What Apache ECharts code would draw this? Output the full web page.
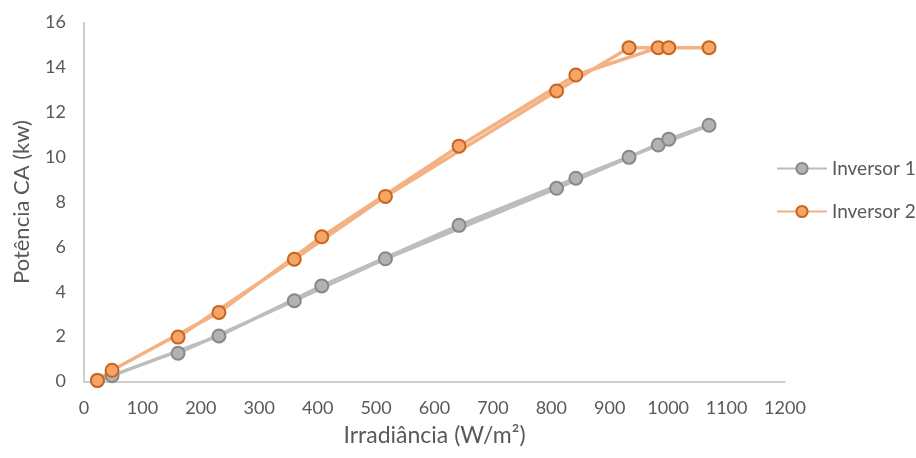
<!DOCTYPE html>
<html>
<head>
<meta charset="utf-8">
<script src="https://cdn.jsdelivr.net/npm/echarts@6/dist/echarts.min.js"></script>
<style>
  html, body { margin: 0; padding: 0; background: #ffffff; }
  #chart { width: 916px; height: 458px; }
</style>
</head>
<body>
<div id="chart"></div>
<script>
// Readings in time order over the day (irradiance rises, peaks, then falls)
const irradiance = [23, 48, 231, 407, 642, 842, 983, 1070, 1001, 933, 809, 516, 360, 161];
const inversor1 = [0.05, 0.26, 2.03, 4.26, 6.96, 9.06, 10.54, 11.42, 10.8, 9.99, 8.61, 5.47, 3.6, 1.26];
const inversor2 = [0.05, 0.5, 3.08, 6.45, 10.49, 13.66, 14.88, 14.88, 14.88, 14.88, 12.95, 8.25, 5.45, 1.98];
const seriesNames = ['Inversor 1', 'Inversor 2'];
const xTicks = { min: 0, max: 1200, interval: 100 };
const yTicks = { min: 0, max: 16, interval: 2 };

const pairs = (vals) => irradiance.map((x, i) => [x, vals[i]]);

const font = 'Lato, "Open Sans", "DejaVu Sans", sans-serif';
const textColor = '#595959';

const chart = echarts.init(document.getElementById('chart'), null, { renderer: 'canvas' });
chart.setOption({
  backgroundColor: '#ffffff',
  animation: false,
  grid: { left: 84, right: 131, top: 22.5, bottom: 76.5, containLabel: false },
  legend: {
    orient: 'vertical',
    left: 771,
    top: 154,
    itemWidth: 50,
    itemHeight: 14,
    itemGap: 24,
    textStyle: { fontFamily: font, fontSize: 19, color: textColor },
    data: seriesNames
  },
  xAxis: {
    type: 'value',
    min: xTicks.min, max: xTicks.max, interval: xTicks.interval,
    name: 'Irradiância (W/m²)',
    nameLocation: 'middle',
    nameGap: 43,
    nameTextStyle: { fontFamily: font, fontSize: 23, color: textColor },
    axisLine: { show: true, lineStyle: { color: '#BFBFBF', width: 1.5 } },
    axisTick: { show: false },
    splitLine: { show: false },
    axisLabel: { fontFamily: font, fontSize: 18, color: textColor, margin: 18, formatter: (v) => String(v) }
  },
  yAxis: {
    type: 'value',
    min: yTicks.min, max: yTicks.max, interval: yTicks.interval,
    name: 'Potência CA (kw)',
    nameLocation: 'middle',
    nameGap: 51,
    nameTextStyle: { fontFamily: font, fontSize: 22, color: textColor },
    axisLine: { show: true, lineStyle: { color: '#BFBFBF', width: 1.5 } },
    axisTick: { show: false },
    splitLine: { show: false },
    axisLabel: { fontFamily: font, fontSize: 18, color: textColor, margin: 18, formatter: (v) => String(v) }
  },
  series: [
    {
      name: seriesNames[0],
      type: 'line',
      data: pairs(inversor1),
      symbol: 'circle',
      symbolSize: 13,
      lineStyle: { color: '#BDBDBD', width: 3.5 },
      itemStyle: { color: '#B2B2B2', borderColor: '#888888', borderWidth: 2 }
    },
    {
      name: seriesNames[1],
      type: 'line',
      data: pairs(inversor2),
      symbol: 'circle',
      symbolSize: 13,
      lineStyle: { color: '#F3B184', width: 3.5 },
      itemStyle: { color: '#F5A566', borderColor: '#C8641F', borderWidth: 2 }
    }
  ]
});
</script>
</body>
</html>
